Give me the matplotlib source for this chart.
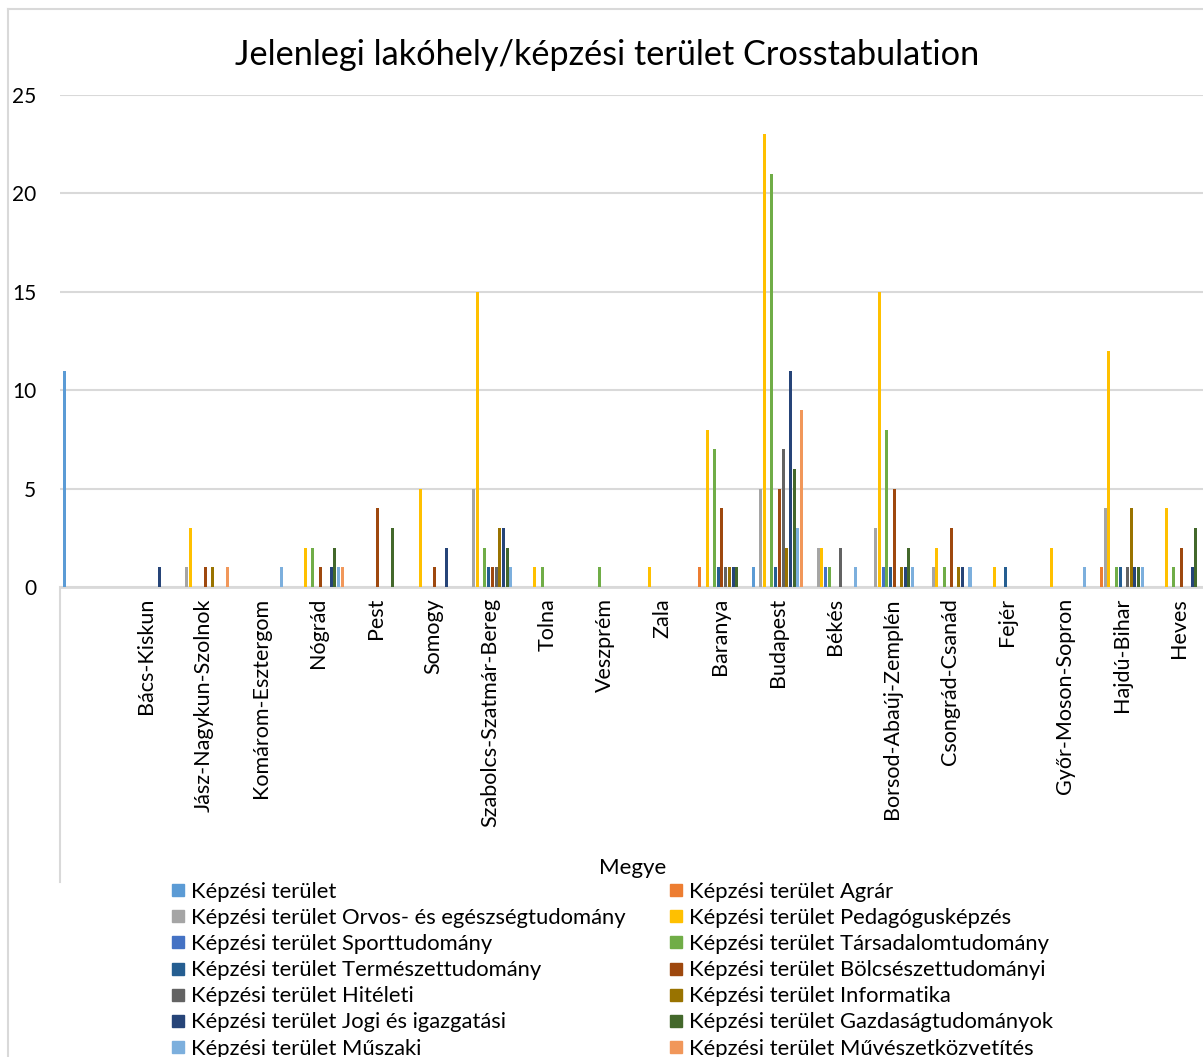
import matplotlib.pyplot as plt
from matplotlib.patches import Rectangle
from matplotlib.lines import Line2D
import numpy as np

plt.rcParams['font.family'] = ['Lato', 'DejaVu Sans']

# counties (first column is the unlabelled total row)
megye = ["", "Bács-Kiskun", "Jász-Nagykun-Szolnok", "Komárom-Esztergom", "Nógrád",
         "Pest", "Somogy", "Szabolcs-Szatmár-Bereg", "Tolna", "Veszprém", "Zala",
         "Baranya", "Budapest", "Békés", "Borsod-Abaúj-Zemplén", "Csongrád-Csanád",
         "Fejér", "Győr-Moson-Sopron", "Hajdú-Bihar", "Heves"]

# one list per training area, values in county order
kepzesi_terulet = [11, 0, 0, 0, 0, 0, 0, 0, 0, 0, 0, 0, 1, 0, 0, 0, 0, 0, 0, 0]
agrar           = [0, 0, 0, 0, 0, 0, 0, 0, 0, 0, 0, 1, 0, 0, 0, 0, 0, 0, 1, 0]
orvos           = [0, 0, 1, 0, 0, 0, 0, 5, 0, 0, 0, 0, 5, 2, 3, 1, 0, 0, 4, 0]
pedagogus       = [0, 0, 3, 0, 2, 0, 5, 15, 1, 0, 1, 8, 23, 2, 15, 2, 1, 2, 12, 4]
sport           = [0, 0, 0, 0, 0, 0, 0, 0, 0, 0, 0, 0, 0, 1, 1, 0, 0, 0, 0, 0]
tarsadalom      = [0, 0, 0, 0, 2, 0, 0, 2, 1, 1, 0, 7, 21, 1, 8, 1, 0, 0, 1, 1]
termeszet       = [0, 0, 0, 0, 0, 0, 0, 1, 0, 0, 0, 1, 1, 0, 1, 0, 1, 0, 1, 0]
bolcseszet      = [0, 0, 1, 0, 1, 4, 1, 1, 0, 0, 0, 4, 5, 0, 5, 3, 0, 0, 0, 2]
hiteleti        = [0, 0, 0, 0, 0, 0, 0, 1, 0, 0, 0, 1, 7, 2, 0, 0, 0, 0, 1, 0]
informatika     = [0, 0, 1, 0, 0, 0, 0, 3, 0, 0, 0, 1, 2, 0, 1, 1, 0, 0, 4, 0]
jogi            = [0, 1, 0, 0, 1, 0, 2, 3, 0, 0, 0, 1, 11, 0, 1, 1, 0, 0, 1, 1]
gazdasag        = [0, 0, 0, 0, 2, 3, 0, 2, 0, 0, 0, 1, 6, 0, 2, 0, 0, 0, 1, 3]
muszaki         = [0, 0, 0, 1, 1, 0, 0, 1, 0, 0, 0, 0, 3, 1, 1, 1, 0, 1, 1, 0]
muveszet        = [0, 0, 1, 0, 1, 0, 0, 0, 0, 0, 0, 0, 9, 0, 0, 0, 0, 0, 0, 0]

series_names = ["Képzési terület", "Képzési terület Agrár",
                "Képzési terület Orvos- és egészségtudomány", "Képzési terület Pedagógusképzés",
                "Képzési terület Sporttudomány", "Képzési terület Társadalomtudomány",
                "Képzési terület Természettudomány", "Képzési terület Bölcsészettudományi",
                "Képzési terület Hitéleti", "Képzési terület Informatika",
                "Képzési terület Jogi és igazgatási", "Képzési terület Gazdaságtudományok",
                "Képzési terület Műszaki", "Képzési terület Művészetközvetítés"]
series_values = [kepzesi_terulet, agrar, orvos, pedagogus, sport, tarsadalom, termeszet,
                 bolcseszet, hiteleti, informatika, jogi, gazdasag, muszaki, muveszet]
colors = ["#5B9BD5", "#ED7D31", "#A5A5A5", "#FFC000", "#4472C4", "#70AD47", "#255E91",
          "#9E480E", "#636363", "#997300", "#264478", "#43682B", "#7CAFDD", "#F1975A"]

W, H = 1203, 1057
fig = plt.figure(figsize=(W / 100, H / 100), dpi=100)
ax = fig.add_axes([60 / W, (H - 587) / H, 1148 / W, 492 / H])

n = len(series_names)
slot = 0.0643
half_gap = (1 - n * slot) / 2
x = np.arange(len(megye))
for j in range(n):
    ax.bar(x + half_gap + slot * (j + 0.5), series_values[j], width=slot * 0.82,
           color=colors[j], edgecolor='none', zorder=3)

ax.set_xlim(0, len(megye))
ax.set_ylim(0, 25)
ax.set_yticks(range(0, 26, 5))
ax.yaxis.grid(True, color='#D9D9D9', linewidth=1.5, zorder=0)
ax.tick_params(axis='y', length=0, pad=17, labelsize=15)
ax.set_xticks(x + 0.5)
ax.set_xticklabels(megye, rotation=90, fontsize=15.5)
ax.tick_params(axis='x', length=0, pad=8)
for s in ['top', 'right', 'left']:
    ax.spines[s].set_visible(False)
ax.spines['bottom'].set_color('#D9D9D9')
ax.spines['bottom'].set_linewidth(2)

fig.text(607 / W, 1 - 55 / H, "Jelenlegi lakóhely/képzési terület Crosstabulation",
         ha='center', va='center', fontsize=24.7)
fig.text(633 / W, 1 - 868 / H, "Megye", ha='center', va='center', fontsize=16)

# chart frame and the category axis end line
fig.add_artist(Line2D([8 / W, 8 / W], [1 - 9 / H, 0], color='#D9D9D9', linewidth=1.5))
fig.add_artist(Line2D([8 / W, 1], [1 - 9 / H, 1 - 9 / H], color='#D9D9D9', linewidth=1.5))
fig.add_artist(Line2D([59.5 / W, 59.5 / W], [1 - 587 / H, 1 - 882 / H], color='#D9D9D9', linewidth=1.5))

# legend in two columns
for i, (name, c) in enumerate(zip(series_names, colors)):
    col, row = i % 2, i // 2
    mx = 172 if col == 0 else 670
    yc = 890 + row * 26.2
    fig.add_artist(Rectangle((mx / W, 1 - (yc + 6) / H), 12 / W, 12 / H,
                             transform=fig.transFigure, color=c))
    fig.text((mx + 19) / W, 1 - (yc + 1.5) / H, name, ha='left', va='center', fontsize=15.8)

fig.savefig("out.png", dpi=100)
